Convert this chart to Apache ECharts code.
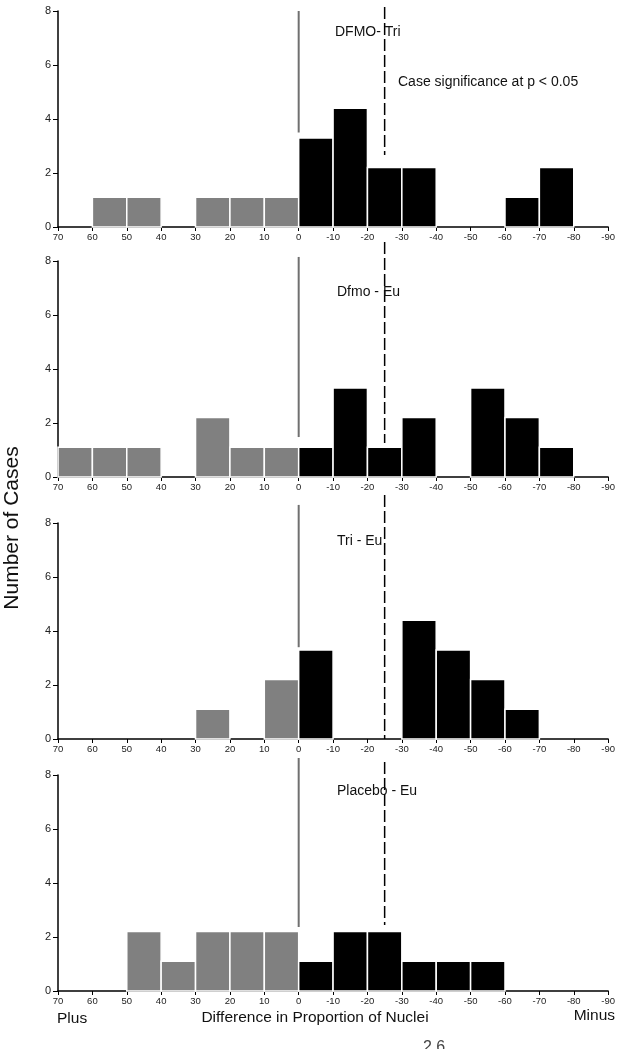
<!DOCTYPE html>
<html><head><meta charset="utf-8">
<script src="https://cdn.jsdelivr.net/npm/echarts@6/dist/echarts.min.js"></script>
<style>html,body{margin:0;padding:0;background:#fff}#c{width:618px;height:1049px}</style>
</head><body><div id="c"></div>
<script>
// ---- data ----
const binStarts = [70,60,50,40,30,20,10,0,-10,-20,-30,-40,-50,-60,-70,-80];
const binWidth = 10;
const panelNames = ['DFMO- Tri', 'Dfmo - Eu', 'Tri - Eu', 'Placebo - Eu'];
const countsDfmoTri    = [0,1.1,1.1,0,1.1,1.1,1.1,3.3,4.4,2.2,2.2,0,0,1.1,2.2,0];
const countsDfmoEu     = [1.1,1.1,1.1,0,2.2,1.1,1.1,1.1,3.3,1.1,2.2,0,3.3,2.2,1.1,0];
const countsTriEu      = [0,0,0,0,1.1,0,2.2,3.3,0,0,4.4,3.3,2.2,1.1,0,0];
const countsPlaceboEu  = [0,0,2.2,1.1,2.2,2.2,2.2,1.1,2.2,2.2,1.1,1.1,1.1,0,0,0];
const yTicks = [0,2,4,6,8];
const xMin = -90, xMax = 70, xStep = 10;
const zeroLineX = 0;
const zeroLineTop    = [8.0, 8.15, 8.67, 8.63];
const zeroLineBottom = [3.5, 1.48, 3.4, 2.37];
const sigLineX = -25;
const sigLineTop     = [8.15, 8.7, 9.04, 8.48];
const sigLineBottom  = [2.67, 1.26, 0, 2.44];
const sigNote = 'Case significance at p < 0.05';

// ---- layout ----
const allCounts = [countsDfmoTri, countsDfmoEu, countsTriEu, countsPlaceboEu];
const panelTops = [11, 261, 523, 775];
const titlePos = [[335, 32], [337, 292], [337, 541], [337, 791]];
const FONT = '"Liberation Sans", Arial, Helvetica, sans-serif';

const grids = [], xAxes = [], yAxes = [], series = [];
allCounts.forEach((counts, i) => {
  grids.push({left: 58, right: 7, top: panelTops[i], height: 216});
  xAxes.push({
    gridIndex: i, type: 'value', inverse: true, min: xMin, max: xMax, interval: xStep,
    axisLine: {onZero: false, lineStyle: {color: '#000', width: 1.5}},
    axisTick: {show: true, length: 4, lineStyle: {color: '#000', width: 1}},
    axisLabel: {fontSize: 9.5, color: '#222', margin: 5, fontFamily: FONT, showMinLabel: true, showMaxLabel: true},
    splitLine: {show: false}
  });
  yAxes.push({
    gridIndex: i, type: 'value', min: yTicks[0], max: yTicks[yTicks.length-1], interval: yTicks[1]-yTicks[0],
    axisLine: {show: true, onZero: false, lineStyle: {color: '#000', width: 1.5}},
    axisTick: {show: true, length: 5, lineStyle: {color: '#000', width: 1}},
    axisLabel: {fontSize: 11, color: '#222', margin: 7, fontFamily: FONT},
    splitLine: {show: false}
  });
  const barData = binStarts.map((s, j) => [s, s - binWidth, counts[j]]).filter(d => d[2] > 0);
  series.push({
    type: 'custom', xAxisIndex: i, yAxisIndex: i, data: barData,
    encode: {x: [0, 1], y: 2},
    renderItem: function (params, api) {
      const x0 = api.value(0), x1 = api.value(1), v = api.value(2);
      const p0 = api.coord([x0, v]);
      const p1 = api.coord([x1, 0]);
      return {
        type: 'rect',
        shape: {x: Math.min(p0[0], p1[0]), y: p0[1], width: Math.abs(p1[0] - p0[0]), height: p1[1] - p0[1]},
        style: {fill: x0 > 0 ? '#808080' : '#000', stroke: '#fff', lineWidth: 1.5}
      };
    }
  });
  series.push({
    type: 'custom', xAxisIndex: i, yAxisIndex: i, clip: false, z: 5,
    data: [[zeroLineX, zeroLineTop[i], zeroLineBottom[i], 0], [sigLineX, sigLineTop[i], sigLineBottom[i], 1]],
    encode: {x: 0, y: [1, 2]},
    renderItem: function (params, api) {
      const x = api.value(0), t = api.value(1), b = api.value(2), dashed = api.value(3);
      const pt = api.coord([x, t]), pb = api.coord([x, b]);
      return {
        type: 'line',
        shape: {x1: pt[0], y1: pt[1], x2: pb[0], y2: pb[1]},
        style: dashed ? {stroke: '#000', lineWidth: 1.5, lineDash: [12, 4]} : {stroke: '#707070', lineWidth: 2}
      };
    }
  });
});

const texts = panelNames.map((n, i) => ({
  type: 'text', x: titlePos[i][0], y: titlePos[i][1], z: 10,
  style: {text: n, font: '14px ' + FONT, fill: '#111', align: 'left', verticalAlign: 'middle'}
}));
texts.push({type: 'text', x: 398, y: 82, z: 10,
  style: {text: sigNote, font: '14px ' + FONT, fill: '#111', align: 'left', verticalAlign: 'middle'}});
texts.push({type: 'text', x: 57, y: 1019,
  style: {text: 'Plus', font: '15.5px ' + FONT, fill: '#111', align: 'left', verticalAlign: 'middle'}});
texts.push({type: 'text', x: 315, y: 1018,
  style: {text: 'Difference in Proportion of Nuclei', font: '15.5px ' + FONT, fill: '#111', align: 'center', verticalAlign: 'middle'}});
texts.push({type: 'text', x: 615, y: 1016,
  style: {text: 'Minus', font: '15.5px ' + FONT, fill: '#111', align: 'right', verticalAlign: 'middle'}});
texts.push({type: 'text', x: 12, y: 528, rotation: Math.PI / 2,
  style: {text: 'Number of Cases', font: '21px ' + FONT, fill: '#111', align: 'center', verticalAlign: 'middle'}});
texts.push({type: 'text', x: 423, y: 1040,
  style: {text: '2 6', font: '16px ' + FONT, fill: '#444', align: 'left', verticalAlign: 'top'}});

const chart = echarts.init(document.getElementById('c'), null, {renderer: 'canvas'});
chart.setOption({
  animation: false,
  backgroundColor: '#fff',
  grid: grids, xAxis: xAxes, yAxis: yAxes, series: series,
  graphic: texts
});
</script></body></html>
